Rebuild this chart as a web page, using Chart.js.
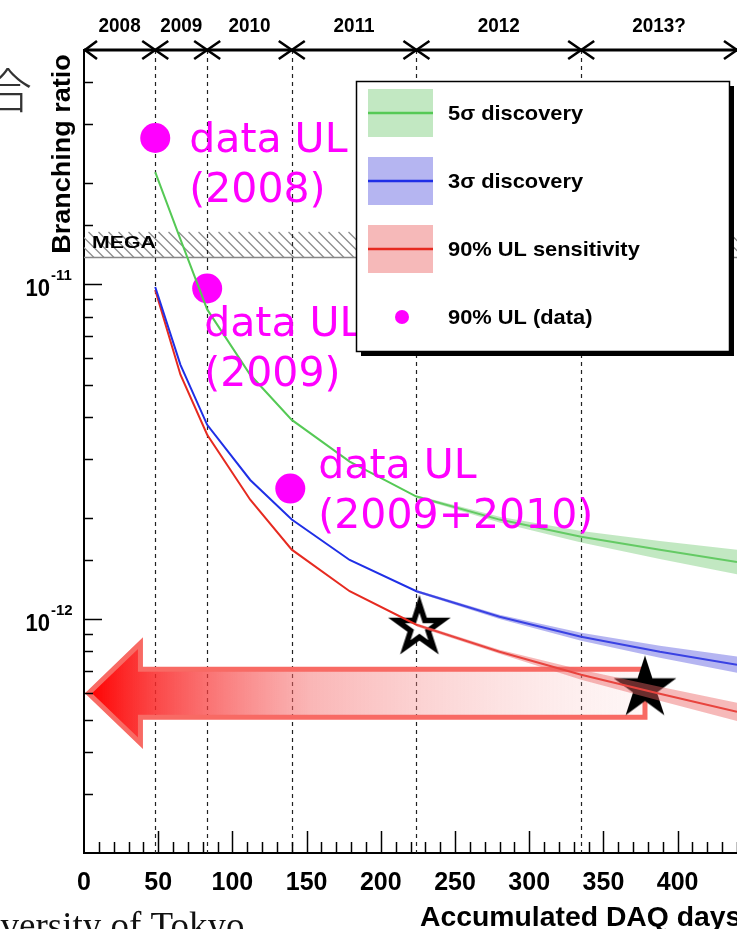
<!DOCTYPE html>
<html><head><meta charset="utf-8">
<script src="https://cdn.jsdelivr.net/npm/chart.js@4/dist/chart.umd.min.js"></script>
<style>html,body{margin:0;padding:0;background:#fff;overflow:hidden}#wrap{position:relative;width:737px;height:929px}</style>
</head><body><div id="wrap"><canvas id="c" width="737" height="929"></canvas></div>
<script>
// ---------------- data ----------------
const days = [48, 65, 83, 112, 140, 179, 224, 280, 335, 388, 440];
const sigma5 = [2.16e-11, 1.36e-11, 8.4e-12, 5.36e-12, 3.93e-12, 2.95e-12, 2.32e-12, 1.98e-12, 1.76e-12, 1.61e-12, 1.48e-12];
const sigma3 = [9.8e-12, 5.74e-12, 3.8e-12, 2.6e-12, 1.98e-12, 1.5e-12, 1.21e-12, 1.015e-12, 8.85e-13, 7.98e-13, 7.3e-13];
const ul90 = [9.6e-12, 5.36e-12, 3.55e-12, 2.27e-12, 1.61e-12, 1.21e-12, 9.61e-13, 7.98e-13, 6.81e-13, 5.98e-13, 5.28e-13];
const bandDays = [224, 280, 335, 388, 440];
const sigma5Upper = [2.34e-12, 2.02e-12, 1.83e-12, 1.71e-12, 1.61e-12];
const sigma5Lower = [2.30e-12, 1.94e-12, 1.69e-12, 1.51e-12, 1.36e-12];
const sigma3Upper = [1.22e-12, 1.03e-12, 9.10e-13, 8.32e-13, 7.72e-13];
const sigma3Lower = [1.20e-12, 1.00e-12, 8.61e-13, 7.66e-13, 6.91e-13];
const ul90Upper = [9.7e-13, 8.09e-13, 7.05e-13, 6.27e-13, 5.62e-13];
const ul90Lower = [9.5e-13, 7.87e-13, 6.58e-13, 5.70e-13, 4.96e-13];
const dataULDays = [48, 83, 139];
const dataULValues = [2.73e-11, 9.7e-12, 2.45e-12];
const dataULLabels = [["data UL", "(2008)"], ["data UL", "(2009)"], ["data UL", "(2009+2010)"]];
const yearBoundaries = [48, 83, 140, 224, 335, 440];
const yearLabels = ["2008", "2009", "2010", "2011", "2012", "2013?"];
const megaLimit = 1.2e-11;
const megaBandTop = 1.43e-11;
const openStarPoint = [226, 9.4e-13];
const filledStarPoint = [378, 6.2e-13];
const arrowFromDay = 378, arrowToDay = 3, arrowValue = 6.0e-13;
const xMin = 0, xMax = 440, yMin = 2e-13, yMax = 5e-11;
const legendLabels = ["5\u03c3 discovery", "3\u03c3 discovery", "90% UL sensitivity", "90% UL (data)"];

// ---------------- styles ----------------
const GREEN = '#55c955', BLUE = '#1f2fe6', RED = '#e62a20', MAGENTA = '#ff00ff';
const GREEN_BAND = 'rgba(120,205,120,0.45)', BLUE_BAND = 'rgba(90,90,225,0.45)', RED_BAND = 'rgba(235,100,100,0.45)';
const SANS = '"Liberation Sans", Arial, sans-serif';

function pts(xs, ys) { return xs.map((x, i) => ({x: x, y: ys[i]})); }

function starCanvas(R, fill, stroke, lw) {
  const pad = lw ? lw * 2 + 2 : 2;
  const s = Math.ceil(2 * (R + pad));
  const c = document.createElement('canvas'); c.width = s; c.height = s;
  const g = c.getContext('2d');
  g.translate(s / 2, s / 2);
  g.beginPath();
  for (let i = 0; i < 10; i++) {
    const r = i % 2 === 0 ? R : R * 0.382;
    const a = -Math.PI / 2 + i * Math.PI / 5;
    g.lineTo(r * Math.cos(a), r * Math.sin(a));
  }
  g.closePath();
  g.fillStyle = fill; g.fill();
  if (lw) { g.lineWidth = lw; g.strokeStyle = stroke; g.lineJoin = 'miter'; g.stroke(); }
  return c;
}
const openStarImg = starCanvas(24, '#fff', '#000', 5.5);
const filledStarImg = starCanvas(33, '#000', null, 0);

function txt(ctx, s, x, y, font, color, sx, align) {
  ctx.save();
  ctx.font = font; ctx.fillStyle = color; ctx.textAlign = align || 'left'; ctx.textBaseline = 'alphabetic';
  ctx.translate(x, y); ctx.scale(sx || 1, 1);
  ctx.fillText(s, 0, 0);
  ctx.restore();
}

const decor = {
  id: 'decor',
  beforeDatasetsDraw(chart) {
    const {ctx, chartArea: a, scales: {x, y}} = chart;
    ctx.save();
    ctx.beginPath(); ctx.rect(a.left, a.top, a.right - a.left, a.bottom - a.top); ctx.clip();
    // MEGA hatched band
    const yb = y.getPixelForValue(megaLimit), yt = y.getPixelForValue(megaBandTop);
    const h = yb - yt;
    ctx.strokeStyle = '#8a8a8a'; ctx.lineWidth = 1.2;
    for (let x0 = a.left - h; x0 < a.right + h; x0 += 10) {
      ctx.beginPath(); ctx.moveTo(x0, yt); ctx.lineTo(x0 + h, yb); ctx.stroke();
    }
    ctx.strokeStyle = '#888'; ctx.lineWidth = 1.6;
    ctx.beginPath(); ctx.moveTo(a.left, yb); ctx.lineTo(a.right, yb); ctx.stroke();
    // dashed year boundaries
    ctx.strokeStyle = '#222'; ctx.lineWidth = 1.2; ctx.setLineDash([4, 4]);
    yearBoundaries.slice(0, -1).forEach(d => {
      const px = Math.round(x.getPixelForValue(d)) + 0.5;
      ctx.beginPath(); ctx.moveTo(px, a.top); ctx.lineTo(px, a.bottom); ctx.stroke();
    });
    ctx.setLineDash([]);
    // big arrow
    const xt = x.getPixelForValue(arrowToDay), xr = x.getPixelForValue(arrowFromDay), yc = y.getPixelForValue(arrowValue);
    const bh = 24, hh = 50, hl = 52;
    const grad = ctx.createLinearGradient(xt, 0, xr, 0);
    grad.addColorStop(0, 'rgba(255,0,0,1)');
    grad.addColorStop(0.12, 'rgba(250,40,40,0.85)');
    grad.addColorStop(0.4, 'rgba(245,110,110,0.5)');
    grad.addColorStop(1, 'rgba(250,200,200,0.15)');
    ctx.beginPath();
    ctx.moveTo(xt, yc);
    ctx.lineTo(xt + hl, yc - hh);
    ctx.lineTo(xt + hl, yc - bh);
    ctx.lineTo(xr, yc - bh);
    ctx.lineTo(xr, yc + bh);
    ctx.lineTo(xt + hl, yc + bh);
    ctx.lineTo(xt + hl, yc + hh);
    ctx.closePath();
    ctx.fillStyle = grad; ctx.fill();
    ctx.strokeStyle = '#f86a64'; ctx.lineWidth = 5; ctx.lineJoin = 'miter'; ctx.stroke();
    ctx.restore();
    // MEGA label
    txt(ctx, 'MEGA', a.left + 8, yb - 10, 'bold 17px ' + SANS, '#000', 1.25);
  },
  afterDraw(chart) {
    const {ctx, chartArea: a, scales: {x, y}} = chart;
    ctx.save();
    // inward ticks on y
    ctx.strokeStyle = '#000'; ctx.lineWidth = 1.5;
    y.ticks.forEach(t => {
      const v = t.value; const e = Math.floor(Math.log10(v) + 1e-9); const m = v / Math.pow(10, e);
      const major = Math.abs(m - 1) < 1e-6;
      const py = Math.round(y.getPixelForValue(v)) + 0.5;
      if (py < a.top + 2 || py > a.bottom - 2) return;
      ctx.beginPath(); ctx.moveTo(a.left, py); ctx.lineTo(a.left + (major ? 18 : 9), py); ctx.stroke();
    });
    // inward ticks on x
    for (let d = 10; d <= xMax; d += 10) {
      const px = Math.round(x.getPixelForValue(d)) + 0.5;
      const major = d % 50 === 0;
      ctx.beginPath(); ctx.moveTo(px, a.bottom); ctx.lineTo(px, a.bottom - (major ? 22 : 11)); ctx.stroke();
    }
    // y tick labels 10^-11, 10^-12
    [1e-11, 1e-12].forEach(v => {
      const py = y.getPixelForValue(v);
      const ex = Math.round(Math.log10(v));
      txt(ctx, '10', 50, py + 12, 'bold 24px ' + SANS, '#000', 0.92, 'right');
      txt(ctx, String(ex), 51, py - 4, 'bold 15px ' + SANS, '#000', 1, 'left');
    });
    // timeline on top
    const ty = a.top;
    ctx.strokeStyle = '#000'; ctx.lineWidth = 3; ctx.lineCap = 'butt';
    ctx.beginPath(); ctx.moveTo(a.left, ty); ctx.lineTo(a.right, ty); ctx.stroke();
    ctx.lineWidth = 2.6;
    const ah = 13, av = 9;
    ctx.beginPath(); ctx.moveTo(a.left + ah, ty - av); ctx.lineTo(a.left + 1, ty); ctx.lineTo(a.left + ah, ty + av); ctx.stroke();
    yearBoundaries.forEach(d => {
      const px = x.getPixelForValue(d);
      ctx.beginPath();
      ctx.moveTo(px - ah, ty - av); ctx.lineTo(px + ah, ty + av);
      ctx.moveTo(px - ah, ty + av); ctx.lineTo(px + ah, ty - av);
      ctx.stroke();
    });
    yearLabels.forEach((lab, i) => {
      const d0 = i === 0 ? xMin : yearBoundaries[i - 1];
      const px = x.getPixelForValue((d0 + yearBoundaries[i]) / 2);
      txt(ctx, lab, px, 32, 'bold 21px ' + SANS, '#000', 0.9, 'center');
    });
    // magenta annotations
    const offs = [[34, 14], [-3, 48], [28, -11]];
    dataULLabels.forEach((lines, i) => {
      const px = x.getPixelForValue(dataULDays[i]), py = y.getPixelForValue(dataULValues[i]);
      lines.forEach((s, j) => txt(ctx, s, px + offs[i][0], py + offs[i][1] + j * 50, '41px "DejaVu Sans", sans-serif', MAGENTA, 1, 'left'));
    });
    // legend
    const L = 356, T = 81, W = 373, H = 270;
    ctx.fillStyle = '#000'; ctx.fillRect(L + 5, T + 5, W, H);
    ctx.fillStyle = '#fff'; ctx.fillRect(L, T, W, H);
    ctx.strokeStyle = '#000'; ctx.lineWidth = 1.5; ctx.strokeRect(L + 0.5, T + 0.5, W, H);
    const items = [[GREEN, GREEN_BAND], [BLUE, BLUE_BAND], [RED, RED_BAND]];
    const rowY = [113, 181, 249, 317];
    items.forEach((it, i) => {
      ctx.fillStyle = it[1]; ctx.fillRect(L + 12, rowY[i] - 24, 65, 48);
      ctx.strokeStyle = it[0]; ctx.lineWidth = 2.5;
      ctx.beginPath(); ctx.moveTo(L + 12, rowY[i]); ctx.lineTo(L + 77, rowY[i]); ctx.stroke();
    });
    ctx.fillStyle = MAGENTA; ctx.beginPath(); ctx.arc(L + 46, rowY[3], 7, 0, Math.PI * 2); ctx.fill();
    legendLabels.forEach((s, i) => txt(ctx, s, L + 92, rowY[i] + 7, 'bold 21px ' + SANS, '#000', 1.04, 'left'));
    // axis titles
    ctx.save(); ctx.translate(70, 154); ctx.rotate(-Math.PI / 2);
    txt(ctx, 'Branching ratio', 0, 0, 'bold 25px ' + SANS, '#000', 1.08, 'center');
    ctx.restore();
    txt(ctx, 'Accumulated DAQ days', 420, 926, 'bold 27px ' + SANS, '#000', 1.05, 'left');
    // cropped surrounding page text
    txt(ctx, 'University of Tokyo', -55, 938, '37px "Liberation Serif", serif', '#111', 1, 'left');
    txt(ctx, '\u5408', -16, 108, '300 48px "Noto Sans CJK JP", sans-serif', '#333', 1, 'left');
    ctx.restore();
  }
};

const chart = new Chart(document.getElementById('c'), {
  type: 'line',
  data: {
    datasets: [
      {label: '5σ band hi', data: pts(bandDays, sigma5Upper), borderWidth: 0, pointRadius: 0, fill: '+1', backgroundColor: GREEN_BAND},
      {label: '5σ band lo', data: pts(bandDays, sigma5Lower), borderWidth: 0, pointRadius: 0, fill: false},
      {label: '3σ band hi', data: pts(bandDays, sigma3Upper), borderWidth: 0, pointRadius: 0, fill: '+1', backgroundColor: BLUE_BAND},
      {label: '3σ band lo', data: pts(bandDays, sigma3Lower), borderWidth: 0, pointRadius: 0, fill: false},
      {label: 'UL band hi', data: pts(bandDays, ul90Upper), borderWidth: 0, pointRadius: 0, fill: '+1', backgroundColor: RED_BAND},
      {label: 'UL band lo', data: pts(bandDays, ul90Lower), borderWidth: 0, pointRadius: 0, fill: false},
      {label: legendLabels[0], data: pts(days, sigma5), borderColor: GREEN, borderWidth: 2, pointRadius: 0, fill: false},
      {label: legendLabels[1], data: pts(days, sigma3), borderColor: BLUE, borderWidth: 2, pointRadius: 0, fill: false},
      {label: legendLabels[2], data: pts(days, ul90), borderColor: RED, borderWidth: 2, pointRadius: 0, fill: false},
      {type: 'scatter', label: legendLabels[3], data: pts(dataULDays, dataULValues), pointRadius: 15, hoverRadius: 15, backgroundColor: MAGENTA, borderWidth: 0},
      {type: 'scatter', label: 'open star', data: [{x: openStarPoint[0], y: openStarPoint[1]}], pointStyle: openStarImg, pointRadius: 30},
      {type: 'scatter', label: 'filled star', data: [{x: filledStarPoint[0], y: filledStarPoint[1]}], pointStyle: filledStarImg, pointRadius: 34}
    ]
  },
  options: {
    responsive: false, animation: false, clip: false,
    layout: {autoPadding: false, padding: {top: 50, right: 0, left: 0, bottom: 0}},
    plugins: {legend: {display: false}, tooltip: {enabled: false}},
    scales: {
      x: {
        type: 'linear', min: xMin, max: xMax,
        afterFit(s) { s.height = 76; s.paddingLeft = 0; s.paddingRight = 0; },
        ticks: {stepSize: 50, includeBounds: false, autoSkip: false, maxRotation: 0, padding: 15, color: '#000',
                font: {family: SANS, weight: 'bold', size: 25}},
        grid: {display: false, drawTicks: false},
        border: {display: true, color: '#000', width: 2}
      },
      y: {
        type: 'logarithmic', min: yMin, max: yMax,
        afterFit(s) { s.width = 84; s.paddingTop = 0; s.paddingBottom = 0; },
        ticks: {display: false},
        grid: {display: false, drawTicks: false},
        border: {display: true, color: '#000', width: 2}
      }
    }
  },
  plugins: [decor]
});
</script></body></html>
